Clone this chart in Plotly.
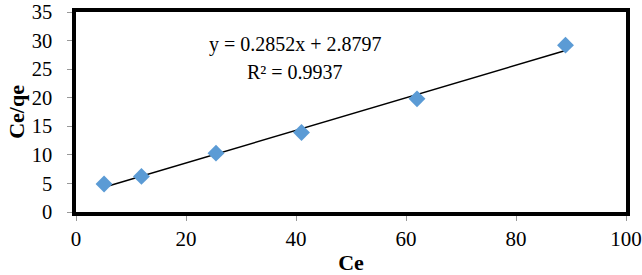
import plotly.graph_objects as go

ce = [5.1, 11.9, 25.45, 41.0, 62.0, 89.0]
ce_qe = [4.9, 6.23, 10.3, 13.9, 19.8, 29.2]
slope = 0.2852
intercept = 2.8797
r2 = 0.9937
x_ticks = [0, 20, 40, 60, 80, 100]
y_ticks = [0, 5, 10, 15, 20, 25, 30, 35]

fit_x = [min(ce), max(ce)]
fit_y = [slope * v + intercept for v in fit_x]

font_family = "Liberation Serif, Times New Roman, serif"

fig = go.Figure()
fig.add_trace(go.Scatter(x=fit_x, y=fit_y, mode="lines",
                         line=dict(color="black", width=1.5), showlegend=False))
fig.add_trace(go.Scatter(x=ce, y=ce_qe, mode="markers",
                         marker=dict(symbol="diamond", size=13, color="#5B9BD5",
                                     line=dict(width=0)), showlegend=False))

fig.add_annotation(x=39.9, y=29.3, xref="x", yref="y",
                   text=f"y = {slope}x + {intercept}",
                   showarrow=False, align="center",
                   font=dict(family=font_family, size=20, color="black"))
fig.add_annotation(x=39.9, y=24.55, xref="x", yref="y",
                   text=f"R² = {r2}",
                   showarrow=False, align="center",
                   font=dict(family=font_family, size=20, color="black"))

fig.update_xaxes(range=[0, 100], tickvals=x_ticks, showgrid=False, zeroline=False,
                 showline=True, linewidth=3.5, linecolor="black", mirror=True,
                 ticks="outside", ticklen=5, tickcolor="#999999",
                 ticklabelstandoff=0, automargin=False, ticklabeloverflow="allow",
                 tickfont=dict(family=font_family, size=21, color="black"),
                 title=dict(text="<b>Ce</b>", font=dict(family=font_family, size=22, color="black"),
                            standoff=6))
fig.update_yaxes(range=[0, 35], tickvals=y_ticks, showgrid=False, zeroline=False,
                 showline=True, linewidth=3.5, linecolor="black", mirror=True,
                 ticks="outside", ticklen=5, tickcolor="#999999",
                 ticklabelstandoff=11, automargin=False, ticklabeloverflow="allow",
                 tickfont=dict(family=font_family, size=20.5, color="black"),
                 title=dict(text="<b>Ce/qe</b>", font=dict(family=font_family, size=22, color="black"),
                            standoff=2))

fig.update_layout(width=642, height=275, margin=dict(l=76, r=16, t=12, b=63),
                  paper_bgcolor="white", plot_bgcolor="white")

fig.write_html("out.html", config={"displayModeBar": False},
               post_script="document.body.style.margin='0';document.body.style.overflow='hidden';")
